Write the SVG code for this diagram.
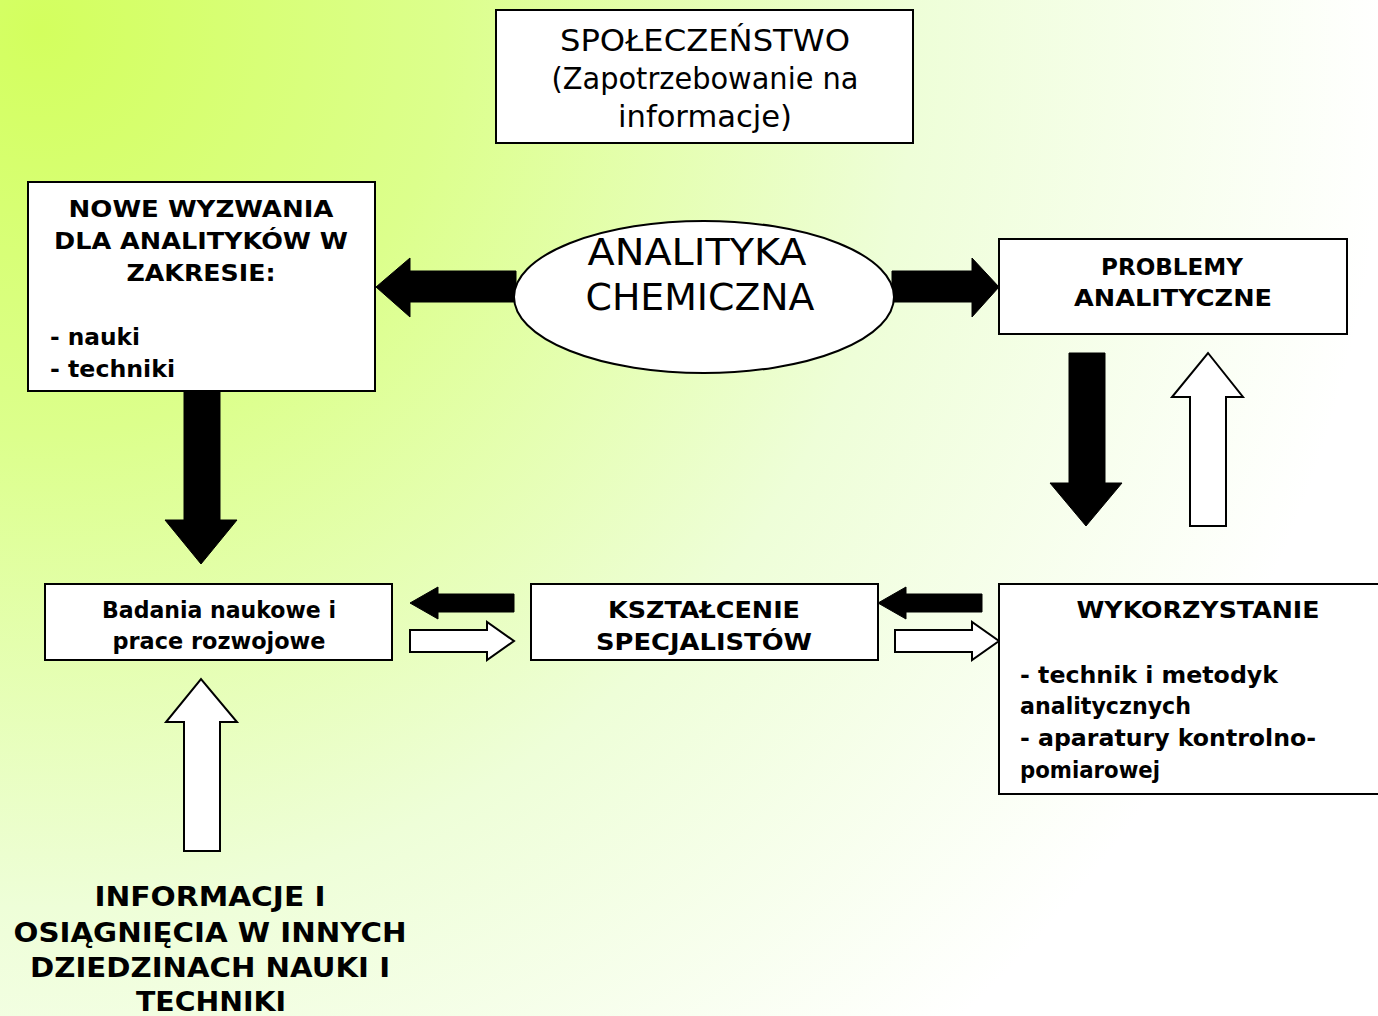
<svg xmlns="http://www.w3.org/2000/svg" width="1378" height="1016" viewBox="0 0 1378 1016">
  <defs>
    <radialGradient id="bg" gradientUnits="userSpaceOnUse" cx="40" cy="30" r="1350">
      <stop offset="0" stop-color="#d3ff5e"/>
      <stop offset="0.3" stop-color="#dcff8c"/>
      <stop offset="0.65" stop-color="#eefed8"/>
      <stop offset="1" stop-color="#ffffff"/>
    </radialGradient>
    <style>
      .box { fill: #ffffff; stroke: #000000; stroke-width: 2; }
      .blk { fill: #000000; stroke: #000000; stroke-width: 1; }
      .wht { fill: #ffffff; stroke: #000000; stroke-width: 2; stroke-linejoin: miter; }
      text { font-family: "DejaVu Sans", "Noto Sans", sans-serif; fill: #000000; }
      .b { font-weight: bold; font-size: 23px; }
      .n { font-size: 30px; }
      .big { font-size: 38px; }
      .bot { font-weight: bold; font-size: 26px; }
      .c { text-anchor: middle; }
    </style>
  </defs>

  <rect width="1378" height="1016" fill="url(#bg)"/>

  <!-- connectors: block arrows -->
  <g id="connectors">
    <!-- ellipse to left box -->
    <polygon class="blk" points="516,271 410,271 410,258 376,287 410,317 410,302 516,302"/>
    <!-- ellipse to right box -->
    <polygon class="blk" points="892,271 972,271 972,258 999,287 972,317 972,302 892,302"/>
    <!-- left box down to research -->
    <polygon class="blk" points="184,391 220,391 220,520 237,520 201,564 165,520 184,520"/>
    <!-- problems down to usage -->
    <polygon class="blk" points="1069,353 1105,353 1105,483 1122,483 1086,526 1050,483 1069,483"/>
    <!-- usage up to problems -->
    <polygon class="wht" points="1190,526 1226,526 1226,397 1243,397 1208,353 1172,397 1190,397"/>
    <!-- education to research (black, left) -->
    <polygon class="blk" points="514,594 438,594 438,587 410,603 438,619 438,612 514,612"/>
    <!-- research to education (white, right) -->
    <polygon class="wht" points="410,630 487,630 487,622 514,641 487,660 487,652 410,652"/>
    <!-- usage to education (black, left) -->
    <polygon class="blk" points="982,594 906,594 906,587 878,603 906,619 906,612 982,612"/>
    <!-- education to usage (white, right) -->
    <polygon class="wht" points="895,630 972,630 972,622 999,641 972,660 972,652 895,652"/>
    <!-- outside knowledge up to research -->
    <polygon class="wht" points="184,851 220,851 220,722 237,722 201,679 166,722 184,722"/>
  </g>

  <g id="spoleczenstwo">
    <rect class="box" x="496" y="10" width="417" height="133"/>
    <text class="n c" x="705" y="51" textLength="290" lengthAdjust="spacingAndGlyphs">SPOŁECZEŃSTWO</text>
    <text class="n c" x="705" y="89" textLength="307" lengthAdjust="spacingAndGlyphs">(Zapotrzebowanie na</text>
    <text class="n c" x="705" y="127" textLength="174" lengthAdjust="spacingAndGlyphs">informacje)</text>
  </g>

  <g id="nowe-wyzwania">
    <rect class="box" x="28" y="182" width="347" height="209"/>
    <text class="b c" x="201" y="217" textLength="265" lengthAdjust="spacingAndGlyphs">NOWE WYZWANIA</text>
    <text class="b c" x="201" y="249" textLength="294" lengthAdjust="spacingAndGlyphs">DLA ANALITYKÓW W</text>
    <text class="b c" x="201" y="281" textLength="149" lengthAdjust="spacingAndGlyphs">ZAKRESIE:</text>
    <text class="b" x="50" y="345" textLength="90" lengthAdjust="spacingAndGlyphs">- nauki</text>
    <text class="b" x="50" y="377" textLength="125" lengthAdjust="spacingAndGlyphs">- techniki</text>
  </g>

  <g id="analityka">
    <ellipse cx="704" cy="297" rx="190" ry="76" fill="#ffffff" stroke="#000000" stroke-width="2"/>
    <text class="big c" x="697" y="265" textLength="219" lengthAdjust="spacingAndGlyphs">ANALITYKA</text>
    <text class="big c" x="700" y="310" textLength="229" lengthAdjust="spacingAndGlyphs">CHEMICZNA</text>
  </g>

  <g id="problemy">
    <rect class="box" x="999" y="239" width="348" height="95"/>
    <text class="b c" x="1172" y="275" textLength="142" lengthAdjust="spacingAndGlyphs">PROBLEMY</text>
    <text class="b c" x="1173" y="306" textLength="198" lengthAdjust="spacingAndGlyphs">ANALITYCZNE</text>
  </g>

  <g id="badania">
    <rect class="box" x="45" y="584" width="347" height="76"/>
    <text class="b c" x="219" y="618" textLength="234" lengthAdjust="spacingAndGlyphs">Badania naukowe i</text>
    <text class="b c" x="219" y="649" textLength="213" lengthAdjust="spacingAndGlyphs">prace rozwojowe</text>
  </g>

  <g id="ksztalcenie">
    <rect class="box" x="531" y="584" width="347" height="76"/>
    <text class="b c" x="704" y="618" textLength="192" lengthAdjust="spacingAndGlyphs">KSZTAŁCENIE</text>
    <text class="b c" x="704" y="650" textLength="216" lengthAdjust="spacingAndGlyphs">SPECJALISTÓW</text>
  </g>

  <g id="wykorzystanie">
    <rect class="box" x="999" y="584" width="390" height="210"/>
    <text class="b c" x="1198" y="618" textLength="243" lengthAdjust="spacingAndGlyphs">WYKORZYSTANIE</text>
    <text class="b" x="1020" y="683" textLength="258" lengthAdjust="spacingAndGlyphs">- technik i metodyk</text>
    <text class="b" x="1020" y="714" textLength="171" lengthAdjust="spacingAndGlyphs">analitycznych</text>
    <text class="b" x="1020" y="746" textLength="296" lengthAdjust="spacingAndGlyphs">- aparatury kontrolno-</text>
    <text class="b" x="1020" y="778" textLength="140" lengthAdjust="spacingAndGlyphs">pomiarowej</text>
  </g>

  <g id="informacje">
    <text class="bot c" x="210" y="906" textLength="231" lengthAdjust="spacingAndGlyphs">INFORMACJE I</text>
    <text class="bot c" x="210" y="942" textLength="393" lengthAdjust="spacingAndGlyphs">OSIĄGNIĘCIA W INNYCH</text>
    <text class="bot c" x="210" y="977" textLength="360" lengthAdjust="spacingAndGlyphs">DZIEDZINACH NAUKI I</text>
    <text class="bot c" x="211" y="1011" textLength="150" lengthAdjust="spacingAndGlyphs">TECHNIKI</text>
  </g>
</svg>
